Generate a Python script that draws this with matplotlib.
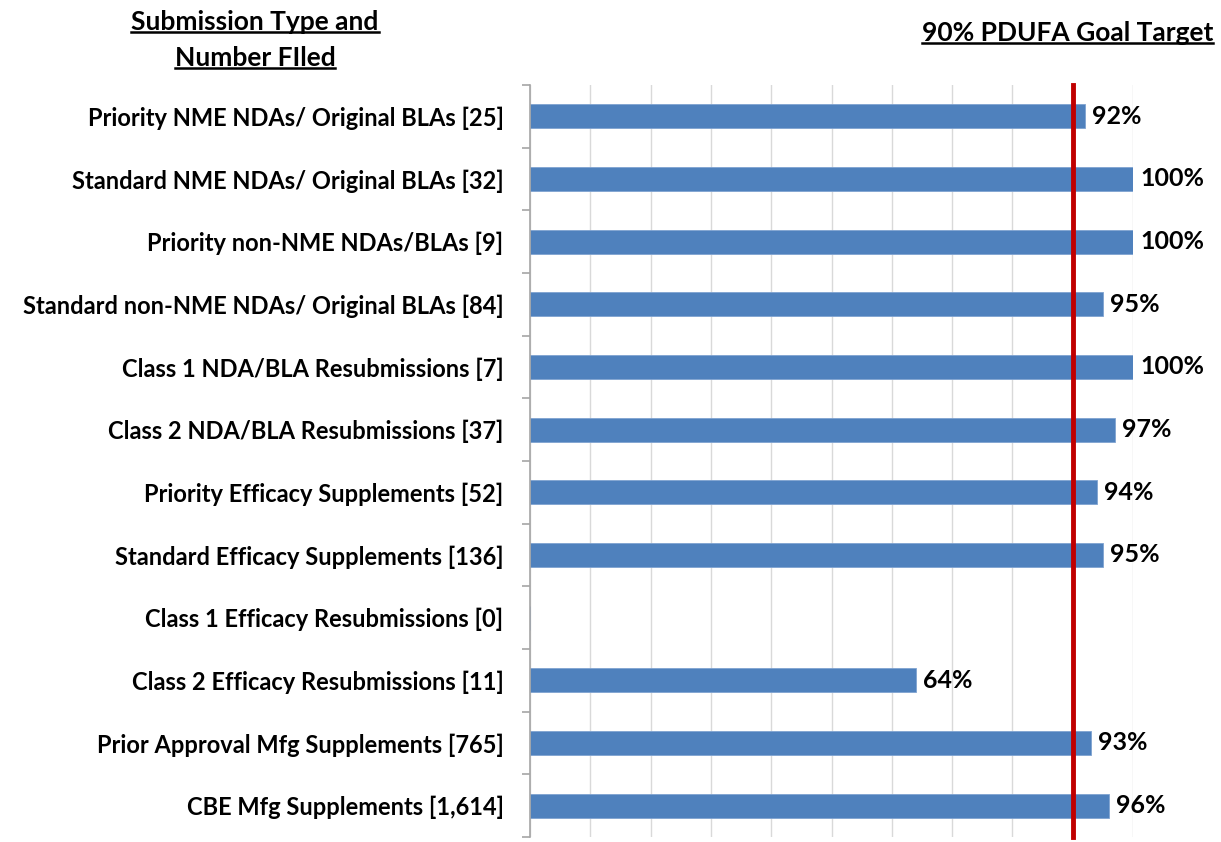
import numpy as np
import matplotlib
matplotlib.use("Agg")
import matplotlib.pyplot as plt
from matplotlib.transforms import offset_copy

categories = [
    "Priority NME NDAs/ Original BLAs [25]",
    "Standard NME NDAs/ Original BLAs [32]",
    "Priority non-NME NDAs/BLAs [9]",
    "Standard non-NME NDAs/ Original BLAs [84]",
    "Class 1 NDA/BLA Resubmissions [7]",
    "Class 2 NDA/BLA Resubmissions [37]",
    "Priority Efficacy Supplements [52]",
    "Standard Efficacy Supplements [136]",
    "Class 1 Efficacy Resubmissions [0]",
    "Class 2 Efficacy Resubmissions [11]",
    "Prior Approval Mfg Supplements [765]",
    "CBE Mfg Supplements [1,614]",
]
values = [0.92, 1.00, 1.00, 0.95, 1.00, 0.97, 0.94, 0.95, np.nan, 0.64, 0.93, 0.96]
target = 0.90

FONT = ["Lato", "DejaVu Sans"]
plt.rcParams["font.family"] = FONT

fig = plt.figure(figsize=(12.21, 8.42), dpi=100)
ax = fig.add_axes([530/1221, 5/842, (1133-530)/1221, (837-85)/842])

n = len(categories)
y = np.arange(n)
vals = np.array(values, dtype=float)
ax.barh(y, np.nan_to_num(vals), height=0.38, color="#4F81BD", edgecolor="#7FA3D1",
        linewidth=0.6, zorder=2)
ax.set_ylim(n - 0.5, -0.5)
ax.set_xlim(0, 1.0)

ax.set_xticks(np.arange(0, 1.01, 0.1))
ax.xaxis.grid(True, color="#D9D9D9", linewidth=1.0, zorder=0)
ax.tick_params(axis="x", length=0, labelbottom=False)

ax.set_yticks(y)
ax.set_yticklabels(categories, fontsize=17, fontweight="bold", color="#000000")
ax.set_yticks(np.arange(-0.5, n, 1.0), minor=True)
ax.tick_params(axis="y", which="major", length=0, pad=19)
ax.tick_params(axis="y", which="minor", length=6, color="#A6A6A6", width=1.2, direction="out")

for s in ["top", "right", "bottom"]:
    ax.spines[s].set_visible(False)
ax.spines["left"].set_color("#A6A6A6")
ax.spines["left"].set_linewidth(1.2)

ax.axvline(target, color="#C00000", linewidth=3.5, zorder=3, ymin=0, ymax=1.0,
           clip_on=False)

for yi, v in zip(y, vals):
    if np.isnan(v):
        continue
    tr = offset_copy(ax.transData, fig=fig, x=7, y=0, units="dots")
    ax.text(v, yi, f"{int(round(v*100))}%", transform=tr, ha="left", va="center",
            fontsize=18, fontweight="bold", color="#000000", clip_on=False)

# Headers with underline
h1 = fig.text(255/1221, 1 - 22/842, "Submission Type and", ha="center", va="center",
              fontsize=19, fontweight="bold")
h2 = fig.text(255/1221, 1 - 58/842, "Number FIled", ha="center", va="center",
              fontsize=19, fontweight="bold")
h3 = fig.text(1213/1221, 1 - 33/842, "90% PDUFA Goal Target", ha="right", va="center",
              fontsize=19, fontweight="bold")

fig.canvas.draw()
renderer = fig.canvas.get_renderer()
for t in (h1, h2, h3):
    bb = t.get_window_extent(renderer)
    yline = bb.y0 + 2
    fig.add_artist(plt.Line2D([bb.x0/1221, bb.x1/1221], [yline/842, yline/842],
                              color="black", linewidth=1.8, transform=fig.transFigure))

fig.savefig("out.png", dpi=100, facecolor="white")
